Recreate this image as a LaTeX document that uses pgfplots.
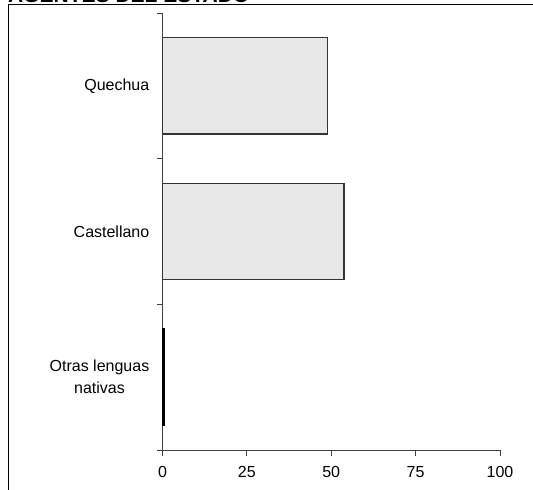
\documentclass[border=0pt]{standalone}
\usepackage{fontspec}
\setmainfont{Liberation Sans}
\usepackage{pgfplots}
\pgfplotsset{compat=1.18}
\definecolor{barfill}{RGB}{232,232,232}
\begin{document}
\begin{tikzpicture}
\useasboundingbox (0pt,0pt) rectangle (533pt,490pt);
\begin{scope}
\clip (0pt,0pt) rectangle (533pt,490pt);
\node[anchor=base west, inner sep=0, font=\fontsize{21}{24}\selectfont\bfseries] at (8pt,487.5pt) {AGENTES DEL ESTADO};
\end{scope}
\draw[line width=1pt] (8pt,0pt) -- (8pt,485pt) -- (533pt,485pt);
\begin{axis}[
  at={(162.5pt,40pt)}, anchor=south west,
  scale only axis, width=337.5pt, height=437pt,
  xbar, bar shift=0pt, bar width=0.66,
  xmin=0, xmax=100, ymin=0.5, ymax=3.5,
  axis lines*=left, axis line style={-, line width=0.9pt, black!75},
  tick align=outside,
  major tick length=6pt, minor tick length=6pt,
  xtick={0,25,50,75,100},
  ytick={1,2,3},
  yticklabels={{Otras lenguas\\nativas},Castellano,Quechua},
  minor ytick={0.5,1.5,2.5,3.5},
  major y tick style={draw=none},
  tick style={black!75, line width=0.9pt},
  yticklabel style={align=center, inner sep=0pt, xshift=-7pt, font=\fontsize{16}{22}\selectfont},
  xticklabel style={inner sep=0pt, font=\fontsize{16}{19}\selectfont, yshift=-10pt},
  /pgf/number format/assume math mode=true,
  clip=false,
]
\addplot[fill=barfill, draw=black!80, line width=1.2pt] coordinates {(48.9,3) (53.8,2)};
\addplot[fill=black, draw=black, line width=1.2pt] coordinates {(0.6,1)};
\end{axis}
\end{tikzpicture}
\end{document}
